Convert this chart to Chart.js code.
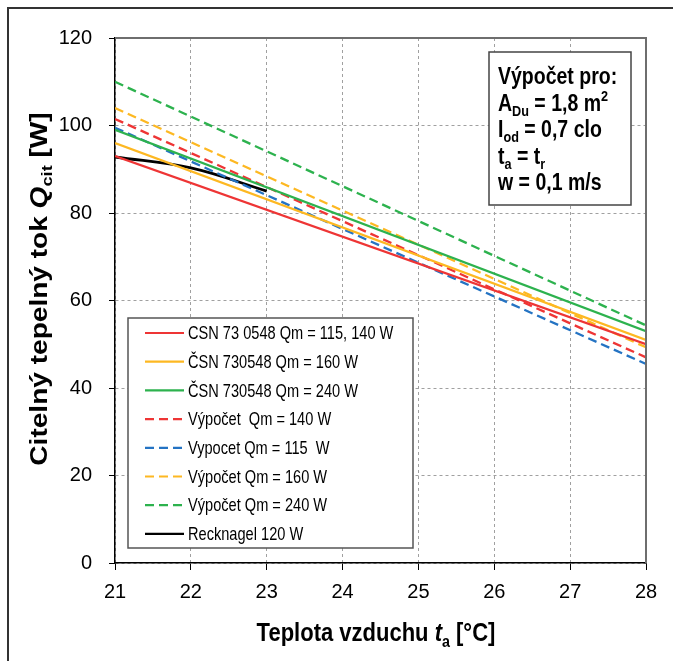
<!DOCTYPE html>
<html>
<head>
<meta charset="utf-8">
<script src="https://cdn.jsdelivr.net/npm/chart.js@4"></script>
<style>
  body { margin: 0; background: #fff; }
  canvas { display: block; }
</style>
</head>
<body>
<canvas id="myChart" width="673" height="661"></canvas>
<script>
// values
const tempRange = [21, 28]
const csnQm115_140 = [93, 50]
const csnQm160 = [96, 51]
const csnQm240 = [99, 53]
const calcQm140 = [101.5, 47]
const calcQm115 = [99.5, 45.5]
const calcQm160 = [104, 49.3]
const calcQm240 = [110, 54.3]
const recknagelTemps = [21, 22, 23]
const recknagel120 = [92.8, 90.3, 85.0]

const seriesLabels = [
    'CSN 73 0548 Qm = 115, 140 W',
    'ČSN 730548 Qm = 160 W',
    'ČSN 730548 Qm = 240 W',
    'Výpočet  Qm = 140 W',
    'Vypocet Qm = 115  W',
    'Výpočet Qm = 160 W',
    'Výpočet Qm = 240 W',
    'Recknagel 120 W'
]
const seriesColors = ['#EE3535', '#FDB822', '#2DB24E', '#EE3535', '#2473C3', '#FDB822', '#2DB24E', '#000000']
const seriesDashed = [false, false, false, true, true, true, true, false]

const xTicks = [21, 22, 23, 24, 25, 26, 27, 28]
const yTicks = [0, 20, 40, 60, 80, 100, 120]

const FONT = "'Liberation Sans', Arial, sans-serif"
const STRETCH = 1.18

function toPoints(xs, ys) {
    return xs.map((x, i) => ({ x: x, y: ys[i] }))
}

const seriesData = [
    toPoints(tempRange, csnQm115_140),
    toPoints(tempRange, csnQm160),
    toPoints(tempRange, csnQm240),
    toPoints(tempRange, calcQm140),
    toPoints(tempRange, calcQm115),
    toPoints(tempRange, calcQm160),
    toPoints(tempRange, calcQm240),
    toPoints(recknagelTemps, recknagel120)
]

// text made of parts (sub/sup/italic), left aligned at x, baseline y
function richWidth(ctx, parts, size, weight) {
    let w = 0
    parts.forEach(p => {
        let s = (p.sub || p.sup) ? size * 0.65 : size
        ctx.font = (p.italic ? 'italic ' : '') + weight + ' ' + s + 'px ' + FONT
        w += ctx.measureText(p.t).width
    })
    return w
}
function drawRich(ctx, parts, x, y, size, weight) {
    let cx = x
    parts.forEach(p => {
        let s = (p.sub || p.sup) ? size * 0.65 : size
        let dy = p.sub ? size * 0.22 : (p.sup ? -size * 0.4 : 0)
        ctx.font = (p.italic ? 'italic ' : '') + weight + ' ' + s + 'px ' + FONT
        ctx.fillText(p.t, cx, y + dy)
        cx += ctx.measureText(p.t).width
    })
}

const decorPlugin = {
    id: 'decor',
    beforeDraw(chart) {
        const ctx = chart.ctx
        ctx.save()
        ctx.fillStyle = '#fff'
        ctx.fillRect(0, 0, chart.width, chart.height)
        // outer frame (only left and top are visible)
        ctx.strokeStyle = '#333'
        ctx.lineWidth = 2
        ctx.beginPath()
        ctx.moveTo(8, chart.height + 5)
        ctx.lineTo(8, 8)
        ctx.lineTo(chart.width + 5, 8)
        ctx.stroke()
        ctx.restore()
    },
    afterDraw(chart) {
        const ctx = chart.ctx
        const a = chart.chartArea
        ctx.save()
        ctx.textBaseline = 'alphabetic'
        ctx.fillStyle = '#000'

        // top and right frame of plot
        ctx.strokeStyle = '#6e6e6e'
        ctx.lineWidth = 2
        ctx.beginPath()
        ctx.moveTo(a.left, a.top)
        ctx.lineTo(a.right, a.top)
        ctx.lineTo(a.right, a.bottom)
        ctx.stroke()

        // x title
        const xt = [{ t: 'Teplota vzduchu ' }, { t: 't', italic: true }, { t: 'a', sub: true }, { t: ' [°C]' }]
        let w = richWidth(ctx, xt, 22, 'bold')
        ctx.save()
        ctx.translate(376 - w / 2, 641)
        ctx.scale(1, STRETCH)
        drawRich(ctx, xt, 0, 0, 22, 'bold')
        ctx.restore()

        // y title
        const yt = [{ t: 'Citelný tepelný tok ' }, { t: 'Q', italic: true }, { t: 'cit', sub: true }, { t: ' [W]' }]
        w = richWidth(ctx, yt, 23, 'bold')
        ctx.save()
        ctx.translate(47, 289)
        ctx.rotate(-Math.PI / 2)
        ctx.scale(1.22, 1)
        drawRich(ctx, yt, -w / 2, 0, 23, 'bold')
        ctx.restore()

        // legend box
        ctx.fillStyle = '#fff'
        ctx.fillRect(128, 318, 285, 230)
        ctx.strokeStyle = '#555'
        ctx.lineWidth = 1.5
        ctx.strokeRect(128, 318, 285, 230)
        chart.data.datasets.forEach((ds, i) => {
            const cy = 333 + i * 28.7
            ctx.strokeStyle = ds.borderColor
            ctx.lineWidth = 2.2
            ctx.setLineDash(ds.borderDash || [])
            ctx.beginPath()
            ctx.moveTo(145, cy)
            ctx.lineTo(184, cy)
            ctx.stroke()
            ctx.setLineDash([])
            ctx.fillStyle = '#000'
            ctx.font = '14.6px ' + FONT
            ctx.save()
            ctx.translate(188, cy + 6.2)
            ctx.scale(1, 1.2)
            ctx.fillText(ds.label, 0, 0)
            ctx.restore()
        })

        // annotation box
        ctx.fillStyle = '#fff'
        ctx.fillRect(489, 52, 142, 153)
        ctx.strokeStyle = '#444'
        ctx.lineWidth = 1.5
        ctx.strokeRect(489, 52, 142, 153)
        ctx.fillStyle = '#000'
        const lines = [
            [{ t: 'Výpočet pro:' }],
            [{ t: 'A' }, { t: 'Du', sub: true }, { t: ' = 1,8 m' }, { t: '2', sup: true }],
            [{ t: 'I' }, { t: 'od', sub: true }, { t: ' = 0,7 clo' }],
            [{ t: 't' }, { t: 'a', sub: true }, { t: ' = t' }, { t: 'r', sub: true }],
            [{ t: 'w = 0,1 m/s' }]
        ]
        lines.forEach((parts, i) => {
            ctx.save()
            ctx.translate(498, 84 + i * 26.6)
            ctx.scale(1, STRETCH)
            drawRich(ctx, parts, 0, 0, 19.5, 'bold')
            ctx.restore()
        })
        ctx.restore()
    }
}

const ctx = document.getElementById('myChart')
new Chart(ctx, {
    type: 'line',
    data: {
        datasets: seriesData.map((pts, i) => ({
            label: seriesLabels[i],
            data: pts,
            borderColor: seriesColors[i],
            backgroundColor: seriesColors[i],
            borderWidth: i == 7 ? 2.8 : 2.3,
            borderDash: seriesDashed[i] ? [9, 5] : [],
            pointRadius: 0,
            fill: false,
            tension: i == 7 ? 0.4 : 0
        }))
    },
    options: {
        responsive: false,
        animation: false,
        layout: { padding: { top: 38, right: 27, left: 0, bottom: 0 } },
        plugins: {
            legend: { display: false },
            tooltip: { enabled: false }
        },
        scales: {
            x: {
                type: 'linear',
                min: tempRange[0],
                max: tempRange[1],
                afterBuildTicks: s => { s.ticks = xTicks.map(v => ({ value: v })) },
                afterFit: s => { s.height = 98 },
                ticks: { color: '#000', font: { size: 20, family: FONT }, padding: 10, maxRotation: 0 },
                grid: { color: '#a0a0a0', lineWidth: 1, tickColor: '#000', tickLength: 7 },
                border: { color: '#000', width: 1.5, dash: [3, 3] }
            },
            y: {
                min: 0,
                max: 120,
                afterBuildTicks: s => { s.ticks = yTicks.map(v => ({ value: v })) },
                afterFit: s => { s.width = 115 },
                ticks: { color: '#000', font: { size: 20, family: FONT }, padding: 17 },
                grid: { color: '#a0a0a0', lineWidth: 1, tickColor: '#000', tickLength: 6 },
                border: { color: '#000', width: 1.5, dash: [3, 3] }
            }
        }
    },
    plugins: [decorPlugin]
})
</script>
</body>
</html>
